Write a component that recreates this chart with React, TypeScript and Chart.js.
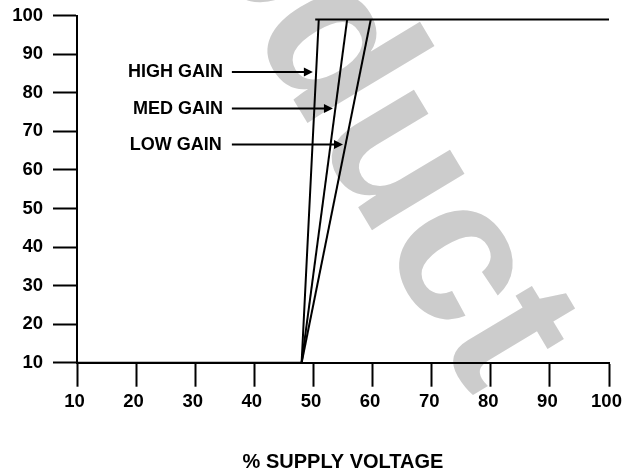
import React, { useEffect, useRef } from "react";
import { Chart, registerables } from "chart.js";

Chart.register(...registerables);

// ---- data ----
const xTicks = [10, 20, 30, 40, 50, 60, 70, 80, 90, 100];
const yTicks = [10, 20, 30, 40, 50, 60, 70, 80, 90, 100];

const highGainX = [10, 48, 50.9];
const highGainY = [10, 10, 99];
const medGainX = [48, 55.7];
const medGainY = [10, 99];
const lowGainX = [48, 59.7];
const lowGainY = [10, 99];
const saturationX = [50.3, 100];
const saturationY = [99, 99];

const annotationLabels = ["HIGH GAIN", "MED GAIN", "LOW GAIN"];
const annotationY = [85.4, 75.9, 66.6];
const annotationTextX = [34.7, 34.7, 34.5];
const arrowStartX = [36.2, 36.2, 36.2];
const arrowTipX = [49.9, 53.3, 55.0];

const xTitle = "% SUPPLY VOLTAGE";
const watermarkText = "Product";

const FONT = "'Liberation Sans', Arial, Helvetica, sans-serif";

const toPoints = (xs: number[], ys: number[]) => xs.map((x, i) => ({ x, y: ys[i] }));

const watermarkPlugin = {
  id: "watermark",
  beforeDraw(chart: any) {
    const ctx = chart.ctx;
    const size = 205;
    ctx.save();
    ctx.fillStyle = "#cccccc";
    ctx.font = `bold ${size}px ${FONT}`;
    ctx.textBaseline = "alphabetic";
    ctx.textAlign = "left";
    // anchor: base of the "d" stem
    ctx.translate(301.7, 113.3);
    ctx.rotate((59 * Math.PI) / 180);
    const pre = ctx.measureText(watermarkText.slice(0, 3)).width;
    ctx.fillText(watermarkText, -(pre + 0.49 * size), 0);
    ctx.restore();
  },
};

const annotationPlugin = {
  id: "gainArrows",
  afterDatasetsDraw(chart: any) {
    const ctx = chart.ctx;
    const xs = chart.scales.x;
    const ys = chart.scales.y;
    ctx.save();
    ctx.fillStyle = "#000";
    ctx.strokeStyle = "#000";
    ctx.lineWidth = 2;
    ctx.font = `bold 18px ${FONT}`;
    ctx.textAlign = "right";
    ctx.textBaseline = "middle";
    annotationLabels.forEach((label, i) => {
      const y = ys.getPixelForValue(annotationY[i]);
      const tx = xs.getPixelForValue(annotationTextX[i]);
      const x0 = xs.getPixelForValue(arrowStartX[i]);
      const x1 = xs.getPixelForValue(arrowTipX[i]);
      ctx.fillText(label, tx, y + 0.5);
      const headLen = 9;
      ctx.beginPath();
      ctx.moveTo(x0, y);
      ctx.lineTo(x1 - headLen + 1, y);
      ctx.stroke();
      ctx.beginPath();
      ctx.moveTo(x1, y);
      ctx.lineTo(x1 - headLen, y - 4.5);
      ctx.lineTo(x1 - headLen, y + 4.5);
      ctx.closePath();
      ctx.fill();
    });
    ctx.restore();
  },
};

export default function App() {
  const canvasRef = useRef<HTMLCanvasElement | null>(null);

  useEffect(() => {
    if (!canvasRef.current) return;
    const lineStyle = {
      borderColor: "#000",
      borderWidth: 2,
      pointRadius: 0,
      tension: 0,
      fill: false,
      borderCapStyle: "butt" as const,
    };
    const chart = new Chart(canvasRef.current, {
      type: "line",
      data: {
        datasets: [
          { label: "HIGH GAIN", data: toPoints(highGainX, highGainY), ...lineStyle },
          { label: "MED GAIN", data: toPoints(medGainX, medGainY), ...lineStyle },
          { label: "LOW GAIN", data: toPoints(lowGainX, lowGainY), ...lineStyle },
          { label: "SATURATION", data: toPoints(saturationX, saturationY), ...lineStyle },
        ],
      },
      options: {
        animation: false,
        responsive: false,
        devicePixelRatio: 1,
        layout: { padding: { top: 15.7, right: 25, left: 0, bottom: 0 } },
        plugins: {
          legend: { display: false },
          tooltip: { enabled: false },
        },
        scales: {
          x: {
            type: "linear",
            min: 10,
            max: 100,
            afterBuildTicks: (s: any) => {
              s.ticks = xTicks.map((v) => ({ value: v }));
            },
            afterFit: (s: any) => {
              s.height = 472 - 362.7;
              s.paddingLeft = 0;
              s.paddingRight = 0;
            },
            border: { display: true, color: "#000", width: 2 },
            grid: {
              display: true,
              drawOnChartArea: false,
              drawTicks: true,
              tickLength: 24,
              tickWidth: 2,
              tickColor: "#000",
            },
            ticks: {
              color: "#000",
              padding: 4,
              labelOffset: -2.5,
              maxRotation: 0,
              autoSkip: false,
              font: { family: FONT, size: 18.5, weight: "bold" },
            },
            title: {
              display: true,
              text: xTitle,
              color: "#000",
              padding: { top: 0, bottom: 0 },
              font: { family: FONT, size: 20, weight: "bold", lineHeight: 1 },
            },
          },
          y: {
            type: "linear",
            min: 10,
            max: 100,
            afterBuildTicks: (s: any) => {
              s.ticks = yTicks.map((v) => ({ value: v }));
            },
            afterFit: (s: any) => {
              s.width = 77;
              s.paddingTop = 0;
              s.paddingBottom = 0;
            },
            border: { display: true, color: "#000", width: 2 },
            grid: {
              display: true,
              drawOnChartArea: false,
              drawTicks: true,
              tickLength: 24,
              tickWidth: 2,
              tickColor: "#000",
            },
            ticks: {
              color: "#000",
              padding: 10,
              autoSkip: false,
              font: { family: FONT, size: 18.5, weight: "bold" },
            },
          },
        },
      },
      plugins: [watermarkPlugin, annotationPlugin],
    } as any);
    return () => chart.destroy();
  }, []);

  return (
    <div style={{ position: "fixed", left: 0, top: 0, width: 634, height: 472, background: "#fff" }}>
      <canvas ref={canvasRef} width={634} height={472} style={{ display: "block" }} />
    </div>
  );
}
